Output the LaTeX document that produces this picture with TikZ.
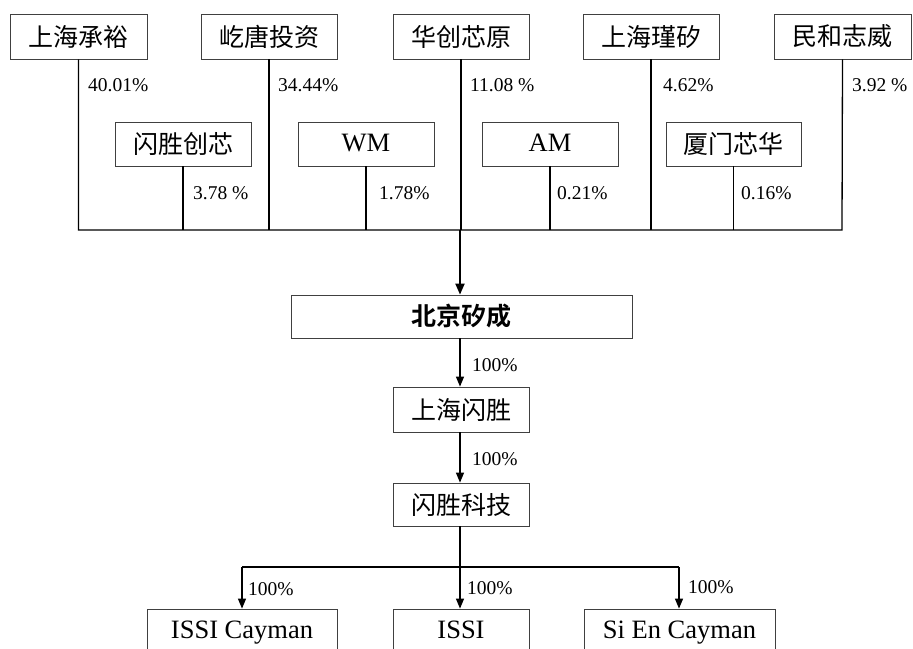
\documentclass[tikz,border=0pt]{standalone}
\usepackage{fontspec}
\setmainfont{Liberation Serif}
\newfontfamily\cjk{Noto Sans CJK SC}
\newfontfamily\cjkb{Noto Sans CJK SC Bold}
\usetikzlibrary{arrows.meta}
\begin{document}
\begin{tikzpicture}[x=1pt,y=-1pt,
  box/.style={draw=black!75,line width=0.8pt,inner sep=0pt,font=\fontsize{25}{25}\selectfont\cjk},
  lbox/.style={box,font=\fontsize{26.5}{26.5}\selectfont,text height=18pt,text depth=2.5pt},
  lbl/.style={anchor=west,inner sep=0pt,font=\fontsize{19.5}{19.5}\selectfont},
  ln/.style={line width=1.3pt,black},
  arr/.style={line width=1.3pt,black,-{Triangle[length=10pt,width=8pt]}}]
\useasboundingbox (0,0) rectangle (913,648);
\newcommand\mybox[6]{\node[box,minimum width=#4-#2,minimum height=#5-#3] (#1) at ({(#2+#4)/2},{(#3+#5)/2}) {#6};}
\mybox{a1}{10}{14}{147}{59}{上海承裕}
\mybox{a2}{201}{14}{337}{59}{屹唐投资}
\mybox{a3}{393}{14}{529}{59}{华创芯原}
\mybox{a4}{583}{14}{719}{59}{上海瑾矽}
\mybox{a5}{774}{14}{911}{59}{民和志威}
\mybox{b1}{115}{122}{251}{166}{闪胜创芯}
\node[lbox,minimum width=136,minimum height=44] (b2) at (366,144) {WM};
\node[lbox,minimum width=136,minimum height=44] (b3) at (550,144) {AM};
\mybox{b4}{666}{122}{801}{166}{厦门芯华}
\node[box,minimum width=341,minimum height=43,font=\fontsize{25}{25}\selectfont\cjkb] (c) at (461.5,316.5) {北京矽成};
\mybox{d}{393}{387}{529}{432}{上海闪胜}
\mybox{e}{393}{483}{529}{526}{闪胜科技}
\node[lbox,minimum width=190,minimum height=44] (f1) at (242,631) {ISSI Cayman};
\node[lbox,minimum width=136,minimum height=44] (f2) at (461,631) {ISSI};
\node[lbox,minimum width=191,minimum height=44] (f3) at (679.5,631) {Si En Cayman};
% bar coordinates
\coordinate (bl) at (78,230);
\coordinate (br) at (842,230);
\coordinate (bm) at (460,230);
\draw[ln] (a1.south) -- (a1.south |- bl) -- (br) -- (a5.south);
\foreach \n in {a2,a3,a4,b1,b2,b3,b4} \draw[ln] (\n.south) -- (\n.south |- bl);
\draw[line width=2pt,-{Triangle[length=11pt,width=9pt]}] (bm) -- (c.north -| bm);
\draw[arr] (c.south -| bm) -- (d.north -| bm);
\draw[arr] (d.south -| bm) -- (e.north -| bm);
\coordinate (cl) at (242,567);
\coordinate (cr) at (679,567);
\coordinate (cm) at (460,567);
\draw[ln] (e.south -| bm) -- (cm);
\draw[ln] (cl) -- (cr);
\draw[arr] (cl) -- (f1.north);
\draw[arr] (cm) -- (f2.north -| cm);
\draw[arr] (cr) -- (f3.north -| cr);
% labels
\node[lbl] (l1) at (88,85) {40.01\%};
\node[lbl] (l2) at (278,85) {34.44\%};
\node[lbl] (l3) at (470,85) {11.08 \%};
\node[lbl] (l4) at (663,85) {4.62\%};
\node[lbl] (l5) at (852,85) {3.92 \%};
\node[lbl] (l6) at (193,193) {3.78 \%};
\node[lbl] (l7) at (379,193) {1.78\%};
\node[lbl] (l8) at (557,193) {0.21\%};
\node[lbl] (l9) at (741,193) {0.16\%};
\node[lbl] (l10) at (472,365) {100\%};
\node[lbl] (l11) at (472,459) {100\%};
\node[lbl] (l12) at (248,589) {100\%};
\node[lbl] (l13) at (467,588) {100\%};
\node[lbl] (l14) at (688,587) {100\%};
\end{tikzpicture}
\end{document}
